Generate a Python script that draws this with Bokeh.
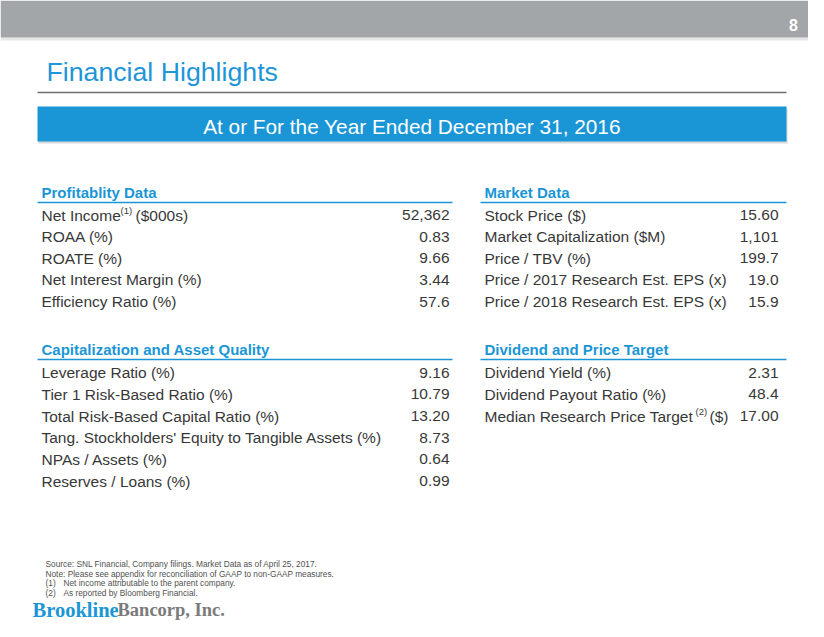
from bokeh.plotting import figure
from bokeh.models import Range1d, ColumnDataSource
from bokeh.core.properties import value
from bokeh.embed import file_html
from bokeh.resources import INLINE

# ---------------- data ----------------
page_number = "8"
title = "Financial Highlights"
banner = "At or For the Year Ended December 31, 2016"

prof_header = "Profitablity Data"
prof_labels = ["Net Income", "ROAA (%)", "ROATE (%)", "Net Interest Margin (%)", "Efficiency Ratio (%)"]
prof_values = ["52,362", "0.83", "9.66", "3.44", "57.6"]

market_header = "Market Data"
market_labels = ["Stock Price ($)", "Market Capitalization ($M)", "Price / TBV (%)",
                 "Price / 2017 Research Est. EPS (x)", "Price / 2018 Research Est. EPS (x)"]
market_values = ["15.60", "1,101", "199.7", "19.0", "15.9"]

cap_header = "Capitalization and Asset Quality"
cap_labels = ["Leverage Ratio (%)", "Tier 1 Risk-Based Ratio (%)", "Total Risk-Based Capital Ratio (%)",
              "Tang. Stockholders' Equity to Tangible Assets (%)", "NPAs / Assets (%)", "Reserves / Loans (%)"]
cap_values = ["9.16", "10.79", "13.20", "8.73", "0.64", "0.99"]

div_header = "Dividend and Price Target"
div_labels = ["Dividend Yield (%)", "Dividend Payout Ratio (%)", "Median Research Price Target"]
div_values = ["2.31", "48.4", "17.00"]

footnotes = ["Source: SNL Financial, Company filings. Market Data as of April 25, 2017.",
             "Note: Please see appendix for reconciliation of GAAP to non-GAAP measures."]
note_marks = ["(1)", "(2)"]
note_texts = ["Net income attributable to the parent company.", "As reported by Bloomberg Financial."]

# ---------------- styles ----------------
BLUE = "#1a96d6"
GRAY_BAR = "#a2a6a9"
TEXT = "#383838"
FONT = value("Liberation Sans")
ROW = 15.5


def by(y, size):
    """baseline correction for the svg text renderer"""
    return y - 0.28 * size


p = figure(width=808, height=621, x_range=Range1d(0, 808), y_range=Range1d(621, 0),
           output_backend="svg", toolbar_location=None, min_border=0,
           x_axis_type=None, y_axis_type=None)
p.grid.visible = False
p.outline_line_color = None
p.background_fill_color = "white"
p.border_fill_color = "white"

# top gray bar + shadow
p.quad(left=[0], right=[808], top=[37], bottom=[40], fill_color="#d6d8d9", fill_alpha=0.6, line_color=None)
p.quad(left=[0], right=[808], top=[0], bottom=[37], fill_color=GRAY_BAR, line_color=None)
p.text(x=[793], y=[by(29, 16)], text=[page_number], text_font=FONT, text_font_size="16px",
       text_font_style="bold", text_color="white", text_align="center", text_baseline="alphabetic")

# title and rule
p.text(x=[46], y=[by(79, 26.7)], text=[title], text_font=FONT, text_font_size="26.7px",
       text_color="#1e95d8", text_baseline="alphabetic")
p.segment(x0=[37], y0=[92], x1=[786], y1=[92], line_color="#6d6d6d", line_width=1.5)

# banner with shadow
p.quad(left=[38], right=[787], top=[108], bottom=[143], fill_color="#c8c8c8", fill_alpha=0.7, line_color=None)
p.quad(left=[37], right=[786], top=[106], bottom=[141], fill_color=BLUE, line_color=None)
p.text(x=[411.5], y=[by(131.5, 20.8)], text=[banner], text_font=FONT, text_font_size="20.8px",
       text_color="white", text_align="center", text_baseline="alphabetic")


def section(header, labels, values, x_left, x_line_end, x_val, y_header, y_first, step):
    p.text(x=[x_left], y=[by(y_header, 15)], text=[header], text_font=FONT, text_font_size="15px",
           text_font_style="bold", text_color=BLUE, text_baseline="alphabetic")
    p.segment(x0=[x_left - 4], y0=[y_header + 6], x1=[x_line_end], y1=[y_header + 6],
              line_color=BLUE, line_width=1.5)
    ys = [y_first + i * step for i in range(len(labels))]
    src = ColumnDataSource(dict(x=[x_left] * len(labels), xv=[x_val] * len(labels),
                                y=[by(v, ROW) for v in ys], lab=labels, val=values))
    p.text(x="x", y="y", text="lab", source=src, text_font=FONT, text_font_size=f"{ROW}px",
           text_color=TEXT, text_baseline="alphabetic")
    p.text(x="xv", y="y", text="val", source=src, text_font=FONT, text_font_size=f"{ROW}px",
           text_color=TEXT, text_baseline="alphabetic", text_align="right")
    return ys


ys_prof = section(prof_header, prof_labels, prof_values, 41, 452, 449, 196, 219, 21.6)
section(market_header, market_labels, market_values, 484, 786, 778, 196, 219, 21.6)
section(cap_header, cap_labels, cap_values, 41, 452, 449, 353, 376.5, 21.7)
ys_div = section(div_header, div_labels, div_values, 484, 786, 778, 353, 376.5, 21.7)

# superscripts and suffixes
p.text(x=[120], y=[by(ys_prof[0] - 6.5, 9.5)], text=["(1)"], text_font=FONT, text_font_size="9.5px",
       text_color=TEXT, text_baseline="alphabetic")
p.text(x=[135], y=[by(ys_prof[0], ROW)], text=["($000s)"], text_font=FONT, text_font_size=f"{ROW}px",
       text_color=TEXT, text_baseline="alphabetic")
p.text(x=[695], y=[by(ys_div[2] - 6.5, 9.5)], text=["(2)"], text_font=FONT, text_font_size="9.5px",
       text_color=TEXT, text_baseline="alphabetic")
p.text(x=[709], y=[by(ys_div[2], ROW)], text=["($)"], text_font=FONT, text_font_size=f"{ROW}px",
       text_color=TEXT, text_baseline="alphabetic")

# footnotes
FN = 8.3
p.text(x=[45, 45], y=[by(566, FN), by(575.5, FN)], text=footnotes, text_font=FONT,
       text_font_size=f"{FN}px", text_color="#505050", text_baseline="alphabetic")
p.text(x=[45, 45], y=[by(585, FN), by(594.5, FN)], text=note_marks, text_font=FONT,
       text_font_size=f"{FN}px", text_color="#505050", text_baseline="alphabetic")
p.text(x=[63, 63], y=[by(585, FN), by(594.5, FN)], text=note_texts, text_font=FONT,
       text_font_size=f"{FN}px", text_color="#505050", text_baseline="alphabetic")

# logo
p.text(x=[32], y=[by(615, 20.5)], text=["Brookline"], text_font=value("Liberation Serif"),
       text_font_size="20.5px", text_font_style="bold", text_color=BLUE, text_baseline="alphabetic")
p.text(x=[117], y=[by(615, 18.5)], text=["Bancorp, Inc."], text_font=value("Liberation Serif"),
       text_font_size="18.5px", text_font_style="bold", text_color="#7b7b7b", text_baseline="alphabetic")

open("out.html", "w").write(file_html(p, INLINE))
